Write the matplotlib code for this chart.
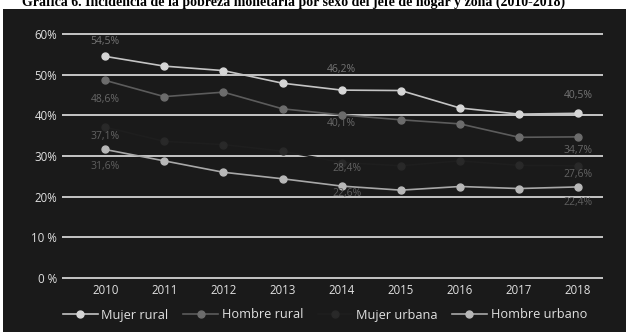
import matplotlib
matplotlib.use('Agg')
import matplotlib.pyplot as plt
from matplotlib.lines import Line2D

plt.rcParams['font.family'] = ['Open Sans', 'DejaVu Sans']

# Incidencia de la pobreza monetaria (%), 2010-2018
YEARS = [2010, 2011, 2012, 2013, 2014, 2015, 2016, 2017, 2018]
MUJER_RURAL = [54.5, 52.1, 51.0, 47.9, 46.2, 46.1, 41.8, 40.3, 40.5]
HOMBRE_RURAL = [48.6, 44.6, 45.7, 41.6, 40.1, 38.9, 37.9, 34.6, 34.7]
MUJER_URBANA = [37.1, 33.6, 32.8, 31.2, 28.4, 27.6, 28.8, 27.7, 27.6]
HOMBRE_URBANO = [31.6, 28.8, 26.0, 24.4, 22.6, 21.6, 22.5, 22.0, 22.4]

LABELLED_YEARS = [2010, 2014, 2018]

Y_TICKS = [0, 10, 20, 30, 40, 50, 60]
Y_TICK_LABELS = ['0 %', '10 %', '20%', '30%', '40%', '50%', '60%']

TITLE = ('Gráfica 6. Incidencia de la pobreza monetaria por sexo del jefe '
         'de hogar y zona (2010-2018)')

# (label, values, line colour, marker colour, value-label colour)
SERIES = [
    ('Mujer rural', MUJER_RURAL, '#c4c4c4', '#d6d6d6', '#747474'),
    ('Hombre rural', HOMBRE_RURAL, '#5c5c5c', '#6c6c6c', '#686868'),
    ('Mujer urbana', MUJER_URBANA, '#1e1e1e', '#292929', '#626262'),
    ('Hombre urbano', HOMBRE_URBANO, '#a8a8a8', '#b8b8b8', '#5e5e5e'),
]

# value-label offsets in points (dx, dy) for 2010, 2014, 2018
LABEL_OFFSETS = {
    'Mujer rural': [(0, 11), (0, 14.5), (0, 12.5)],
    'Hombre rural': [(0, -14), (0, -6.5), (0, -9.5)],
    'Mujer urbana': [(0, -7), (4, -4.5), (0, -6)],
    'Hombre urbano': [(0, -12.5), (4, -5.5), (0, -11)],
}

BG = '#1a1a1a'
W, H = 626, 332

fig = plt.figure(figsize=(W / 100, H / 100), dpi=100, facecolor='white')

# dark panel behind the chart
bg = fig.add_axes([3 / W, 0, 1 - 3 / W, 1 - 9 / H], zorder=-0.5)
bg.set_facecolor(BG)
bg.set_xticks([])
bg.set_yticks([])
for s in bg.spines.values():
    s.set_visible(False)

fig.text(294 / W, 1 - 6 / H, TITLE, ha='center', va='baseline',
         family='Liberation Serif', fontweight='bold', fontsize=10,
         color='black', zorder=-1)

# axes placement: 60% at y=34px, 0% at y=278px
ymin, ymax = -1, 62
per = (278 - 34) / 60
top_px = 34 - (ymax - 60) * per
bot_px = 278 + (0 - ymin) * per
ax = fig.add_axes([62 / W, 1 - bot_px / H, 541 / W, (bot_px - top_px) / H])
ax.set_facecolor('none')
ax.set_xlim(2009.27, 2018.42)
ax.set_ylim(ymin, ymax)

ax.set_yticks(Y_TICKS)
ax.set_yticklabels(Y_TICK_LABELS)
ax.set_xticks(YEARS)
ax.set_xticklabels([str(y) for y in YEARS])
ax.grid(axis='y', color='#d2d2d2', linewidth=1.3)
ax.set_axisbelow(True)
ax.tick_params(axis='both', length=0, colors='#e0e0e0', labelsize=8.3)
ax.tick_params(axis='y', pad=3.4)
ax.tick_params(axis='x', pad=1.5)
for s in ax.spines.values():
    s.set_visible(False)

for name, vals, lc, mc, tc in SERIES:
    ax.plot(YEARS, vals, '-', color=lc, linewidth=1.2, marker='o',
            markersize=5, markerfacecolor=mc, markeredgecolor=mc, zorder=3)
    for yr, (dx, dy) in zip(LABELLED_YEARS, LABEL_OFFSETS[name]):
        v = vals[YEARS.index(yr)]
        ax.annotate(f'{v:.1f}%'.replace('.', ','), (yr, v),
                    xytext=(dx, dy), textcoords='offset points',
                    ha='center', va='center', fontsize=7.5, color=tc, zorder=4)

handles = [Line2D([0], [0], color=lc, linewidth=1.2, marker='o', markersize=5,
                  markerfacecolor=mc, markeredgecolor=mc)
           for _, _, lc, mc, _ in SERIES]
labels = [s[0] for s in SERIES]
fig.legend(handles, labels, ncol=4, loc='center',
           bbox_to_anchor=(325 / W, 1 - 315 / H), frameon=False,
           fontsize=9.2, labelcolor='#e0e0e0', handlelength=2.7,
           handletextpad=0.3, columnspacing=1.15)

fig.savefig('out.png', dpi=100, facecolor='white')
